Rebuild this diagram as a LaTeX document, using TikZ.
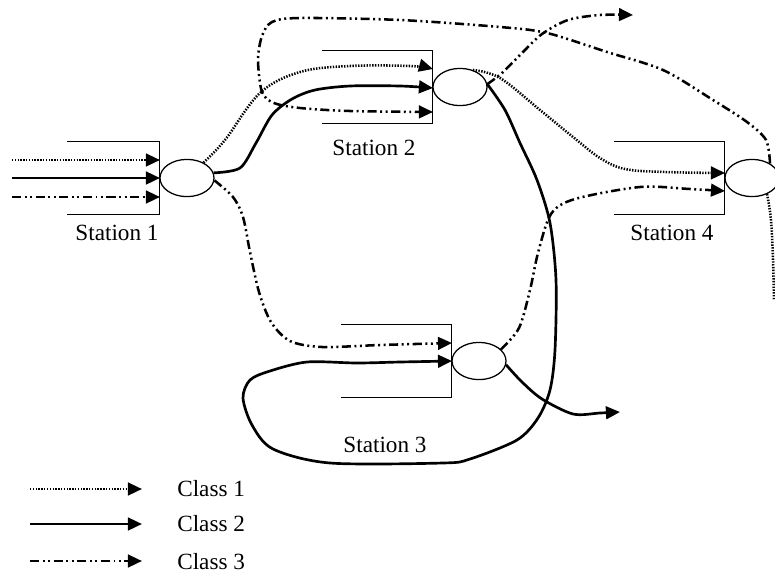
\documentclass[tikz,border=0pt]{standalone}
\usepackage{fontspec}
\setmainfont{Liberation Serif}
\usetikzlibrary{arrows.meta,positioning,shapes.geometric}
\tikzset{
  srv/.style={draw,ellipse,line width=0.9pt,minimum width=1.35cm,minimum height=0.93cm,inner sep=0pt},
  qbox/.style={line width=0.9pt},
  lbl/.style={font=\fontsize{16.5}{20}\selectfont,inner sep=0pt},
  tip/.style={-{Triangle[length=10pt,width=9pt]}},
  cls1/.style={line width=1.8pt,dash pattern=on 1pt off 1pt},
  cls2/.style={line width=1.9pt},
  cls3/.style={line width=1.8pt,dash pattern=on 6.5pt off 2.5pt on 1.4pt off 2.5pt on 1.4pt off 2.5pt},
}
\begin{document}
\begin{tikzpicture}[x=0.025cm,y=-0.025cm]
  \useasboundingbox (0,0) rectangle (775,580);
  % servers
  \node[srv] (s1) at (187,178) {};
  \node[srv] (s2) at (460,87) {};
  \node[srv] (s3) at (479,361) {};
  \node[srv] (s4) at (752,178) {};
  % queues
  \foreach \s/\w in {s1/2.3,s2/2.75,s3/2.75,s4/2.75}
    \draw[qbox] ([xshift=-\w cm,yshift=0.91cm]\s.west) -| ([yshift=-0.91cm]\s.west) -- ++(-\w cm,0);
  \node[lbl] (l1) at (117,233) {Station 1};
  \node[lbl] (l2) at (374,148) {Station 2};
  \node[lbl] (l3) at (385,445) {Station 3};
  \node[lbl] (l4) at (672,233) {Station 4};
  % arrival points
  \coordinate (in1) at (12,160);  \coordinate (s1a) at (160,160);
  \coordinate (in2) at (12,178);  \coordinate (s1b) at (160,178);
  \coordinate (in3) at (12,197);  \coordinate (s1c) at (160,197);
  \coordinate (s2a) at (433,69);  \coordinate (s2b) at (433,88);  \coordinate (s2c) at (433,112);
  \coordinate (s3a) at (452,343); \coordinate (s3b) at (452,361);
  \coordinate (s4a) at (725,173); \coordinate (s4b) at (725,191);
  \coordinate (out2) at (620,412); \coordinate (out3) at (633,15); \coordinate (out1) at (774,300);
  % external arrivals
  \draw[cls1,tip] (in1) -- (s1a);
  \draw[cls2,tip] (in2) -- (s1b);
  \draw[cls3,tip] (in3) -- (s1c);
  % class 1
  \draw[cls1,tip] plot[smooth,tension=0.6] coordinates {(s1.43) (225,140) (260,93) (300,72) (350,66) (410,66) (s2a)};
  \draw[cls1,tip] plot[smooth,tension=0.6] coordinates {(s2.53) (500,78) (540,110) (573,137) (600,158) (625,169) (665,172) (s4a)};
  \draw[cls1] plot[smooth,tension=0.6] coordinates {(s4.-47) (771,220) (773,260) (out1)};
  % class 2
  \draw[cls2,tip] plot[smooth,tension=0.5] coordinates {(s1.11) (240,168) (256,143) (272,115) (292,99) (315,90) (350,86) (400,86) (s2b)};
  \draw[cls2,tip] plot[smooth,tension=0.5] coordinates {(s2.6) (505,110) (520,143) (537,180) (550,223) (556,280) (555,350) (550,390) (538,418) (517,440) (470,459) (443,463) (330,463) (273,449) (252,425) (243,398) (250,380) (270,371) (307,362) (357,363) (400,362) (s3b)};
  \draw[cls2,tip] plot[smooth,tension=0.5] coordinates {(s3.-8) (522,382) (542,399) (573,414) (600,413) (out2)};
  % class 3
  \draw[cls3,tip] plot[smooth,tension=0.5] coordinates {(s1.-5) (233,197) (243,217) (250,252) (259,292) (271,322) (290,341) (322,347) (380,345) (s3a)};
  \draw[cls3,tip] plot[smooth,tension=0.5] coordinates {(s3.28) (519,328) (530,290) (538,253) (551,214) (575,199) (640,187) (690,189) (s4b)};
  \draw[cls3,tip] plot[smooth,tension=0.5] coordinates {(s2.6) (502,73) (522,53) (542,34) (568,20) (600,15) (out3)};
  \draw[cls3,tip] plot[smooth,tension=0.5] coordinates {(s4.39) (766,140) (747,122) (713,100) (663,70) (607,52) (547,33) (500,27) (400,20) (300,18) (272,22) (262,36) (258,60) (262,92) (274,103) (300,108) (350,111) (s2c)};
  % legend
  \coordinate (k1) at (30,489);  \coordinate (k1e) at (142,489);
  \coordinate (k2) at (30,524);  \coordinate (k2e) at (142,524);
  \coordinate (k3) at (30,561);  \coordinate (k3e) at (142,561);
  \draw[cls1,tip] (k1) -- (k1e);
  \draw[cls2,tip] (k2) -- (k2e);
  \draw[cls3,tip] (k3) -- (k3e);
  \node[lbl,anchor=west] (t1) at (177,489) {Class 1};
  \node[lbl,anchor=west] (t2) at (177,524) {Class 2};
  \node[lbl,anchor=west] (t3) at (177,562) {Class 3};
\end{tikzpicture}
\end{document}
